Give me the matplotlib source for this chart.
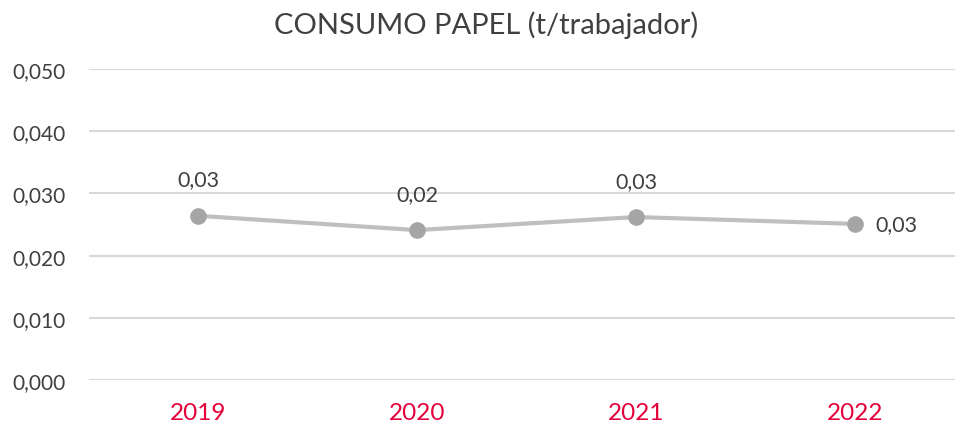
import matplotlib
matplotlib.use("Agg")
import matplotlib.pyplot as plt

years = ["2019", "2020", "2021", "2022"]
values = [0.0264, 0.0241, 0.0262, 0.0251]
labels = ["0,03", "0,02", "0,03", "0,03"]
yticks = [0.0, 0.01, 0.02, 0.03, 0.04, 0.05]
ytick_labels = ["0,000", "0,010", "0,020", "0,030", "0,040", "0,050"]
title = "CONSUMO PAPEL (t/trabajador)"

plt.rcParams['font.family'] = ['Lato', 'DejaVu Sans']
text_color = "#404040"

fig = plt.figure(figsize=(9.55, 4.27), dpi=100)
ax = fig.add_axes([89/955, 1-381/427, (955-89)/955, (381-70)/427])

x = list(range(len(years)))
ax.plot(x, values, color="#BFBFBF", linewidth=3, zorder=3)
ax.scatter(x, values, s=120, color="#A5A5A5", zorder=4, edgecolors="#A5A5A5")

for i, (v, lab) in enumerate(zip(values, labels)):
    if i < len(values) - 1:
        ax.annotate(lab, (i, v), xytext=(0, 19), textcoords="offset points",
                    ha="center", va="bottom", fontsize=15.5, color=text_color)
    else:
        ax.annotate(lab, (i, v), xytext=(15, 0), textcoords="offset points",
                    ha="left", va="center", fontsize=15.5, color=text_color)

ax.set_xlim(-0.498, 3.457)
ax.set_ylim(0, 0.05)
ax.set_yticks(yticks)
ax.set_yticklabels(ytick_labels, fontsize=15, color=text_color)
ax.set_xticks(x)
ax.set_xticklabels(years, fontsize=17.5, color="#E4003A")
ax.tick_params(axis="both", length=0)
ax.tick_params(axis="y", pad=17)
ax.tick_params(axis="x", pad=16)
ax.grid(axis="y", color="#D9D9D9", linewidth=1.5)
ax.set_axisbelow(True)
for s in ax.spines.values():
    s.set_visible(False)

fig.text(486/955, 1-25/427, title, ha="center", va="center", fontsize=21, color=text_color)

fig.savefig("out.png", dpi=100)
